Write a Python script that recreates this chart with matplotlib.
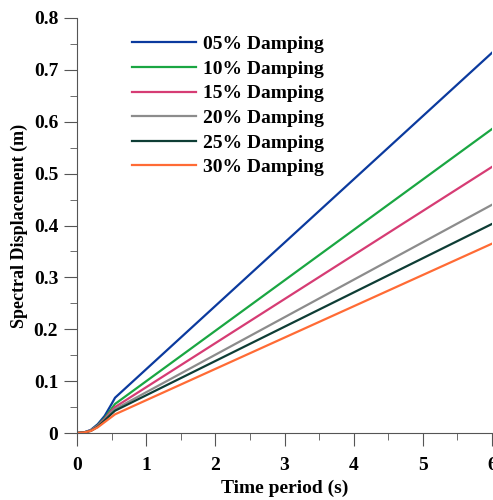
import matplotlib
matplotlib.use("Agg")
import matplotlib.pyplot as plt
from matplotlib.ticker import MultipleLocator

# periodo (s) y desplazamiento espectral (m) para cada amortiguamiento
periodo = [0.0, 0.1, 0.2, 0.3, 0.4, 0.5, 0.55, 6.0]
d05 = [0.0, 0.001, 0.006, 0.017, 0.033, 0.056, 0.068, 0.733]
d10 = [0.0, 0.001, 0.005, 0.015, 0.029, 0.047, 0.056, 0.586]
d15 = [0.0, 0.001, 0.005, 0.014, 0.027, 0.043, 0.050, 0.513]
d20 = [0.0, 0.001, 0.005, 0.013, 0.025, 0.040, 0.046, 0.440]
d25 = [0.0, 0.001, 0.004, 0.012, 0.024, 0.037, 0.043, 0.403]
d30 = [0.0, 0.001, 0.004, 0.011, 0.021, 0.031, 0.036, 0.365]
etiquetas = ["05% Damping", "10% Damping", "15% Damping",
             "20% Damping", "25% Damping", "30% Damping"]
colores = ["#0b3a9e", "#1aa642", "#d63c74", "#8c8c8c", "#0e3d35", "#ff6b35"]

plt.rcParams['font.family'] = ['Liberation Serif', 'DejaVu Serif']
plt.rcParams['font.weight'] = 'bold'

fig = plt.figure(figsize=(4.93, 5), dpi=100)
ax = fig.add_axes([77/493, 67/500, 415/493, 415/500])

for serie, et, c in zip([d05, d10, d15, d20, d25, d30], etiquetas, colores):
    ax.plot(periodo, serie, color=c, lw=1.6, label=et)

ax.set_xlim(0, 6)
ax.set_ylim(0, 0.8)
ax.xaxis.set_major_locator(MultipleLocator(1))
ax.xaxis.set_minor_locator(MultipleLocator(0.5))
ax.yaxis.set_major_locator(MultipleLocator(0.1))
ax.yaxis.set_minor_locator(MultipleLocator(0.05))
ax.yaxis.set_major_formatter(lambda v, p: "0" if v == 0 else f"{v:.1f}")

for s in ["top", "right"]:
    ax.spines[s].set_visible(False)
for s in ["left", "bottom"]:
    ax.spines[s].set_color("#555555")
ax.tick_params(which="major", length=9.5, color="#555555", labelsize=14)
ax.tick_params(which="minor", length=5, color="#555555")
ax.tick_params(axis="x", which="major", pad=8)
ax.tick_params(axis="y", which="major", pad=4)
for lab in ax.get_xticklabels() + ax.get_yticklabels():
    lab.set_fontweight("bold")

ax.set_xlabel("Time period (s)", fontsize=14, fontweight="bold", labelpad=4)
ax.set_ylabel("Spectral Displacement (m)", fontsize=13, fontweight="bold", labelpad=4)

ax.legend(loc="upper left", bbox_to_anchor=(0.09, 1.0), frameon=False,
          prop={'size': 14, 'weight': 'bold'}, handlelength=3.3,
          labelspacing=0.36, handletextpad=0.35)

fig.savefig("out.png", dpi=100)
